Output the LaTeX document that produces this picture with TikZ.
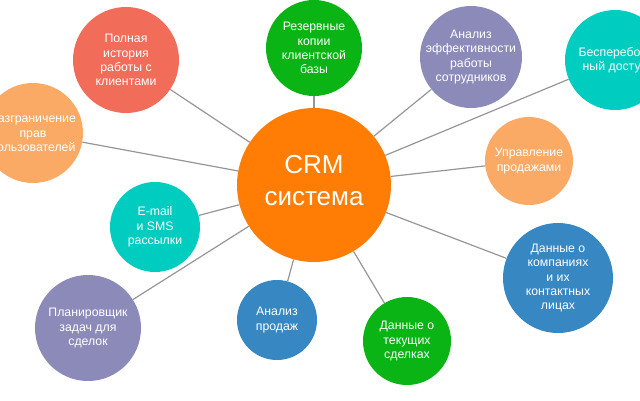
\documentclass[tikz,border=0pt]{standalone}
\usepackage{fontspec}
\setmainfont{Liberation Sans}
\usepackage{xcolor}
\usepackage{tikz}
\usetikzlibrary{positioning}
\definecolor{crmorange}{RGB}{255,125,5}
\definecolor{salmon}{RGB}{242,108,90}
\definecolor{peach}{RGB}{250,170,100}
\definecolor{leaf}{RGB}{10,180,20}
\definecolor{lavender}{RGB}{140,138,185}
\definecolor{teal}{RGB}{0,205,192}
\definecolor{steel}{RGB}{55,135,195}
\definecolor{linkgray}{RGB}{150,150,150}

\begin{document}
\begin{tikzpicture}[
    x=1pt, y=-1pt,
    bubble/.style={
        circle,
        fill=#1,
        inner sep=-12pt,
        text=white,
        align=center,
        font=\fontsize{12.3}{14.3}\selectfont
    },
    link/.style={
        draw=linkgray,
        line width=1.2pt
    }
]
\useasboundingbox (0,0) rectangle (640,400);
\clip (0,0) rectangle (640,400);

% Center
\node[bubble=crmorange, minimum size=154pt, text depth=10pt,
      font=\fontsize{26}{32}\selectfont] (crm) at (314,185) {CRM\\система};

% Features
\node[bubble=salmon, minimum size=106pt] (history) at (126,60) {Полная\\история\\работы с\\клиентами};
\node[bubble=peach, minimum size=100pt] (rights) at (33,133) {Разграничение\\прав\\пользователей};
\node[bubble=leaf, minimum size=96pt] (backup) at (314,48) {Резервные\\копии\\клиентской\\базы};
\node[bubble=lavender, minimum size=102pt] (staff) at (471,57) {Анализ\\эффективности\\работы\\сотрудников};
\node[bubble=teal, minimum size=100pt] (access) at (615,60) {Бесперебой-\\ный доступ};
\node[bubble=peach, minimum size=88pt] (sales) at (529,161) {Управление\\продажами};
\node[bubble=teal, minimum size=90pt] (mail) at (155,227) {E-mail\\и SMS\\рассылки};
\node[bubble=lavender, minimum size=106pt] (planner) at (88,328) {Планировщик\\задач для\\сделок};
\node[bubble=steel, minimum size=80pt] (analysis) at (277,320) {Анализ\\продаж};
\node[bubble=leaf, minimum size=88pt] (deals) at (407,341) {Данные о\\текущих\\сделках};
\node[bubble=steel, minimum size=110pt] (companies) at (558,278) {Данные о\\компаниях\\и их\\контактных\\лицах};

% Links
\path[link]
    (crm) edge (history)
          edge (rights)
          edge (backup)
          edge (staff)
          edge (access)
          edge (sales)
          edge (mail)
          edge (planner)
          edge (analysis)
          edge (deals)
          edge (companies);
\end{tikzpicture}
\end{document}
